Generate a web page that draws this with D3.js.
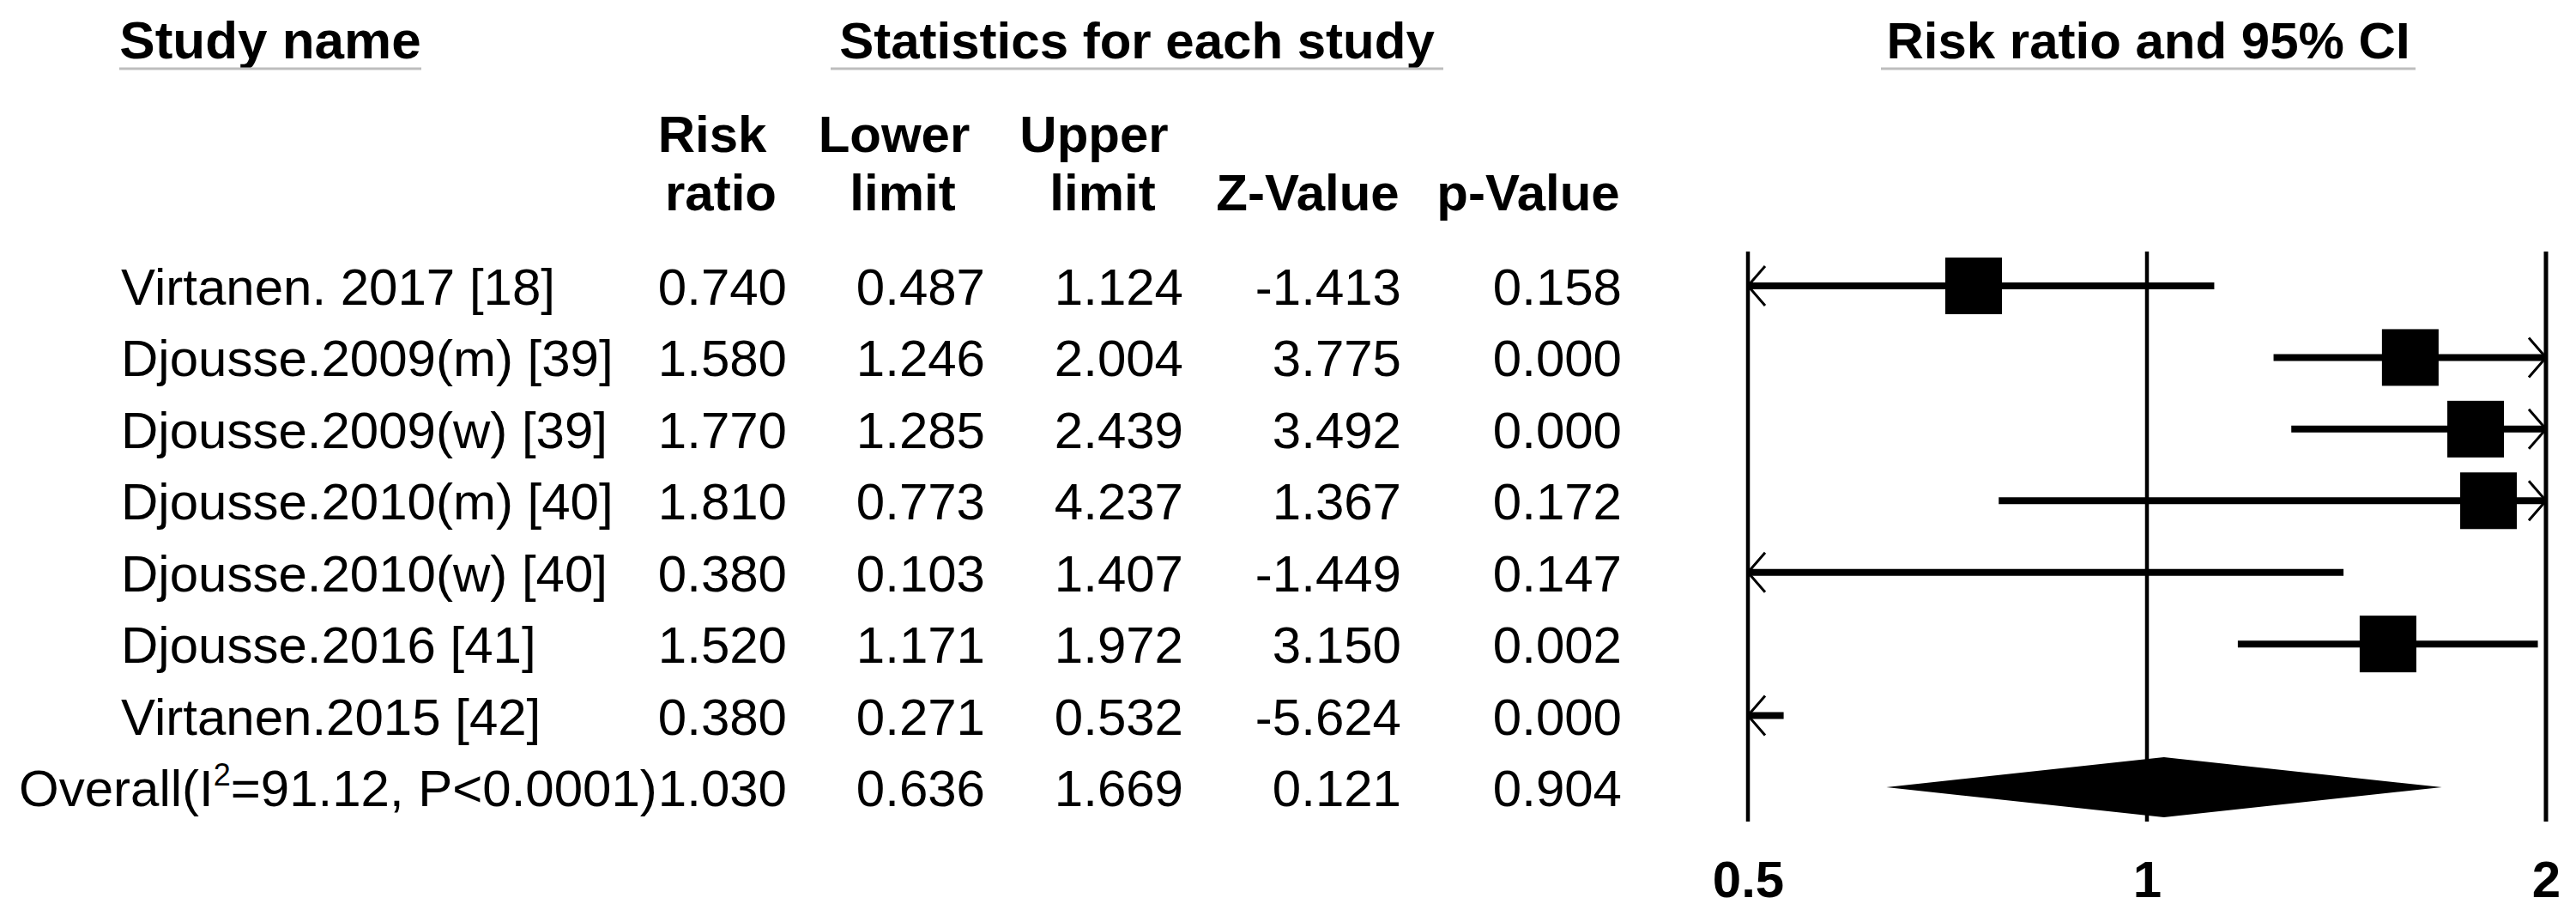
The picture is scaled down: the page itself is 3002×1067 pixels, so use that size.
<!DOCTYPE html>
<html><head><meta charset="utf-8">
<script src="https://cdn.jsdelivr.net/npm/d3@7"></script>
<style>
body{margin:0;background:#fff}
svg{display:block;background:#fff}
text{font-family:"Liberation Sans",Arial,Helvetica,sans-serif;fill:#000}
</style>
</head><body>
<svg id="chart" width="3002" height="1067"></svg>
<script>
// ---- data ----
const studies = ["Virtanen. 2017 [18]", "Djousse.2009(m) [39]", "Djousse.2009(w) [39]",
  "Djousse.2010(m) [40]", "Djousse.2010(w) [40]", "Djousse.2016 [41]", "Virtanen.2015 [42]"];
const riskRatio  = [0.740, 1.580, 1.770, 1.810, 0.380, 1.520, 0.380];
const lowerLimit = [0.487, 1.246, 1.285, 0.773, 0.103, 1.171, 0.271];
const upperLimit = [1.124, 2.004, 2.439, 4.237, 1.407, 1.972, 0.532];
const zValue     = [-1.413, 3.775, 3.492, 1.367, -1.449, 3.150, -5.624];
const pValue     = [0.158, 0.000, 0.000, 0.172, 0.147, 0.002, 0.000];
const overallLabelParts = ["Overall(I", "2", "=91.12, P<0.0001)"];
const overallStats = [1.030, 0.636, 1.669, 0.121, 0.904]; // RR, lower, upper, Z, p
const tickValues = [0.5, 1, 2];
const tickLabels = ["0.5", "1", "2"];
const sectionHeaders = ["Study name", "Statistics for each study", "Risk ratio and 95% CI"];
const columnHeaders = [["Risk", "ratio"], ["Lower", "limit"], ["Upper", "limit"], ["", "Z-Value"], ["", "p-Value"]];

// ---- layout ----
const svg = d3.select("#chart");
const FS = 60;
const x = d3.scaleLog().domain([0.5, 2]).range([2037, 2967]);
const rowKeys = d3.range(studies.length + 1);
const y = d3.scalePoint().domain(rowKeys).range([333, 917]);
const plotTop = 293, plotBottom = 957;
const colRight = [917, 1148, 1379, 1633, 1890];
const headerCenters = [[830, 840], [1042, 1052], [1275, 1285], [1524, 1524], [1781, 1781]];
const fmt = d3.format(".3f");
const fmtSigned = v => (v < 0 ? "-" : "") + fmt(Math.abs(v));

// section headers with grey underlines
const secX = [[139, 491], [968, 1682], [2192, 2815]];
const secFS = [62, 60, 60];
sectionHeaders.forEach((h, i) => {
  const [a, b] = secX[i];
  svg.append("text").attr("x", (a + b) / 2).attr("y", 68).attr("text-anchor", "middle")
    .attr("font-size", secFS[i]).attr("font-weight", "bold").text(h);
  svg.append("line").attr("x1", a).attr("x2", b).attr("y1", 80).attr("y2", 80)
    .attr("stroke", "#bdbdbd").attr("stroke-width", 3);
});

// column headers
columnHeaders.forEach((lines, c) => {
  lines.forEach((t, k) => {
    if (!t) return;
    svg.append("text").attr("x", headerCenters[c][k]).attr("y", k === 0 ? 177 : 245)
      .attr("text-anchor", "middle").attr("font-size", FS).attr("font-weight", "bold").text(t);
  });
});

// study rows
const rows = studies.map((s, i) => ({
  name: s, vals: [riskRatio[i], lowerLimit[i], upperLimit[i], zValue[i], pValue[i]], i
}));
const g = svg.append("g");
rows.forEach(r => {
  const yy = y(r.i) + 22;
  g.append("text").attr("x", 141).attr("y", yy).attr("font-size", FS).text(r.name);
  r.vals.forEach((v, c) => {
    g.append("text").attr("x", colRight[c]).attr("y", yy).attr("text-anchor", "end")
      .attr("font-size", FS).text(c === 3 ? fmtSigned(v) : fmt(v));
  });
});
// overall row
{
  const oi = studies.length;
  const yy = y(oi) + 22;
  const t = g.append("text").attr("x", 22).attr("y", yy).attr("font-size", FS);
  t.append("tspan").text(overallLabelParts[0]);
  t.append("tspan").attr("font-size", 36).attr("dy", -24).text(overallLabelParts[1]);
  t.append("tspan").attr("font-size", FS).attr("dy", 24).text(overallLabelParts[2]);
  overallStats.forEach((v, c) => {
    g.append("text").attr("x", colRight[c]).attr("y", yy).attr("text-anchor", "end")
      .attr("font-size", FS).text(c === 3 ? fmtSigned(v) : fmt(v));
  });
}

// forest plot reference lines
const plot = svg.append("g");
plot.selectAll("line.ref").data(tickValues).join("line").attr("class", "ref")
  .attr("x1", d => x(d)).attr("x2", d => x(d)).attr("y1", plotTop).attr("y2", plotBottom)
  .attr("stroke", "#000").attr("stroke-width", (d, i) => i === 2 ? 5 : 4.5);

// axis labels
const axis = d3.axisBottom(x).tickValues(tickValues).tickFormat((d, i) => tickLabels[i]).tickSize(0).tickPadding(0);
const ag = svg.append("g").attr("transform", "translate(0,1000)").call(axis);
ag.select(".domain").remove();
ag.selectAll("text").attr("font-size", FS).attr("font-weight", "bold")
  .attr("font-family", '"Liberation Sans",Arial,sans-serif').attr("dy", "0.71em").attr("y", 2);

// CI lines, arrows, boxes
const [dMin, dMax] = x.domain();
const ARW = 20, ARH = 23;
rows.forEach(r => {
  const cy = y(r.i);
  const lo = Math.max(r.vals[1], dMin), hi = Math.min(r.vals[2], dMax);
  plot.append("line").attr("x1", x(lo)).attr("x2", x(hi)).attr("y1", cy).attr("y2", cy)
    .attr("stroke", "#000").attr("stroke-width", 8);
  if (r.vals[1] < dMin) {
    const tx = x(dMin);
    plot.append("path").attr("d", `M${tx + ARW},${cy - ARH}L${tx},${cy}L${tx + ARW},${cy + ARH}`)
      .attr("fill", "none").attr("stroke", "#000").attr("stroke-width", 3);
  }
  if (r.vals[2] > dMax) {
    const tx = x(dMax);
    plot.append("path").attr("d", `M${tx - ARW},${cy - ARH}L${tx},${cy}L${tx - ARW},${cy + ARH}`)
      .attr("fill", "none").attr("stroke", "#000").attr("stroke-width", 3);
  }
  const rr = r.vals[0];
  if (rr >= dMin && rr <= dMax) {
    plot.append("rect").attr("x", x(rr) - 33).attr("y", cy - 33).attr("width", 66).attr("height", 66)
      .attr("fill", "#000");
  }
});
// overall diamond
{
  const cy = y(studies.length);
  const [orr, olo, ohi] = overallStats;
  const h = 35;
  plot.append("path")
    .attr("d", `M${x(olo)},${cy}L${x(orr)},${cy - h}L${x(ohi)},${cy}L${x(orr)},${cy + h}Z`)
    .attr("fill", "#000");
}
</script>
</body></html>
